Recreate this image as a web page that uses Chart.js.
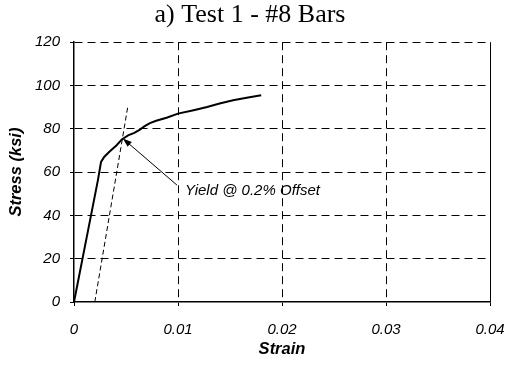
<!DOCTYPE html>
<html>
<head>
<meta charset="utf-8">
<script src="https://cdn.jsdelivr.net/npm/chart.js@4.4.0/dist/chart.umd.min.js"></script>
<style>
  html, body { margin: 0; padding: 0; background: #fff; }
  #wrap { width: 507px; height: 366px; }
</style>
</head>
<body>
<div id="wrap"><canvas id="stressStrain" width="507" height="366"></canvas></div>
<script>
// measured curve, test 1 (#8 bars)
const strain = [0, 0.0023, 0.0026, 0.0029, 0.0034, 0.0041, 0.0046, 0.0052, 0.0058, 0.0063,
                0.0068, 0.0073, 0.0079, 0.0089, 0.0100, 0.0115, 0.0128, 0.0140, 0.0153, 0.0166, 0.0180];
const stress = [0, 56.3, 64.7, 67.0, 69.4, 72.4, 75.1, 77.0, 78.1, 79.5,
                81.2, 82.6, 83.7, 85.1, 87.0, 88.6, 90.1, 91.7, 93.2, 94.3, 95.5];

// 0.2% offset line
const offsetStrain = [0.002, 0.0052];
const offsetStress = [0, 91];

const xTickLabels = ['0', '0.01', '0.02', '0.03', '0.04'];
const yTickLabels = ['0', '20', '40', '60', '80', '100', '120'];

// annotation: arrow from label to yield point
const yieldPoint = [0.0047, 75.5];
const arrowTail = [0.0099, 54];
const yieldLabel = 'Yield @ 0.2% Offset';

const sans = 'Arial, "Liberation Sans", sans-serif';

function toXY(xs, ys) {
    return xs.map((x, i) => ({x: x, y: ys[i]}));
}

const yieldArrow = {
    id: 'yieldArrow',
    afterDatasetsDraw(chart) {
        const ctx = chart.ctx;
        const sx = chart.scales.x, sy = chart.scales.y;
        const tx = sx.getPixelForValue(yieldPoint[0]), ty = sy.getPixelForValue(yieldPoint[1]);
        const fx = sx.getPixelForValue(arrowTail[0]), fy = sy.getPixelForValue(arrowTail[1]);
        const ang = Math.atan2(ty - fy, tx - fx);
        const len = 9, half = 3.2;
        ctx.save();
        ctx.strokeStyle = '#000';
        ctx.fillStyle = '#000';
        ctx.lineWidth = 1;
        ctx.beginPath();
        ctx.moveTo(fx, fy);
        ctx.lineTo(tx - Math.cos(ang) * len * 0.8, ty - Math.sin(ang) * len * 0.8);
        ctx.stroke();
        ctx.beginPath();
        ctx.moveTo(tx, ty);
        ctx.lineTo(tx - Math.cos(ang) * len + Math.sin(ang) * half, ty - Math.sin(ang) * len - Math.cos(ang) * half);
        ctx.lineTo(tx - Math.cos(ang) * len - Math.sin(ang) * half, ty - Math.sin(ang) * len + Math.cos(ang) * half);
        ctx.closePath();
        ctx.fill();
        ctx.font = 'italic 15px ' + sans;
        ctx.textBaseline = 'middle';
        ctx.textAlign = 'left';
        ctx.fillText(yieldLabel, fx + 8, fy + 6);
        ctx.restore();
    }
};

new Chart(document.getElementById('stressStrain'), {
    type: 'scatter',
    data: {
        datasets: [
            {
                data: toXY(strain, stress),
                showLine: true,
                borderColor: '#000',
                borderWidth: 2,
                pointRadius: 0,
                tension: 0
            },
            {
                data: toXY(offsetStrain, offsetStress),
                showLine: true,
                borderColor: '#000',
                borderWidth: 1,
                borderDash: [5, 3],
                pointRadius: 0
            }
        ]
    },
    options: {
        responsive: false,
        animation: false,
        layout: { padding: { left: 0, right: 7, top: 0, bottom: 0 } },
        plugins: {
            legend: { display: false },
            tooltip: { enabled: false },
            title: {
                display: true,
                text: 'a) Test 1 - #8 Bars',
                color: '#000',
                font: { family: 'Times New Roman, "Liberation Serif", serif', size: 26, weight: 'normal' },
                padding: { top: 0, bottom: 11 }
            }
        },
        scales: {
            x: {
                type: 'linear',
                min: 0,
                max: 0.04,
                afterFit: function (scale) {
                    scale.height = 64;
                    scale.paddingLeft = 0;
                    scale.paddingRight = 17;
                },
                ticks: {
                    stepSize: 0.01,
                    padding: 15,
                    color: '#000',
                    maxRotation: 0,
                    font: { family: sans, size: 15, style: 'italic' },
                    callback: (v, i) => xTickLabels[i]
                },
                grid: {
                    color: (c) => (c.index === 0 ? 'rgba(0,0,0,0)' : '#000'),
                    lineWidth: 1,
                    tickLength: 4,
                    tickColor: '#000'
                },
                border: {
                    color: '#000',
                    width: 1.5,
                    dash: (c) => (c.type === 'tick' && c.index !== 4 ? [8, 5] : [])
                },
                title: {
                    display: true,
                    text: 'Strain',
                    color: '#000',
                    font: { family: sans, size: 16.5, style: 'italic', weight: 'bold' },
                    padding: { top: 0, bottom: 7 }
                }
            },
            y: {
                min: 0,
                max: 120,
                afterFit: function (scale) { scale.width = 74; },
                ticks: {
                    stepSize: 20,
                    padding: 10,
                    color: '#000',
                    font: { family: sans, size: 15, style: 'italic' },
                    callback: (v, i) => yTickLabels[i]
                },
                grid: {
                    color: (c) => (c.index === 0 ? 'rgba(0,0,0,0)' : '#000'),
                    lineWidth: 1,
                    tickLength: 4,
                    tickColor: '#000'
                },
                border: {
                    color: '#000',
                    width: 1.5,
                    dash: (c) => (c.type === 'tick' ? [8, 5] : [])
                },
                title: {
                    display: true,
                    text: 'Stress (ksi)',
                    color: '#000',
                    font: { family: sans, size: 16.5, style: 'italic', weight: 'bold' },
                    padding: { top: 7, bottom: 0 }
                }
            }
        }
    },
    plugins: [yieldArrow]
});
</script>
</body>
</html>
